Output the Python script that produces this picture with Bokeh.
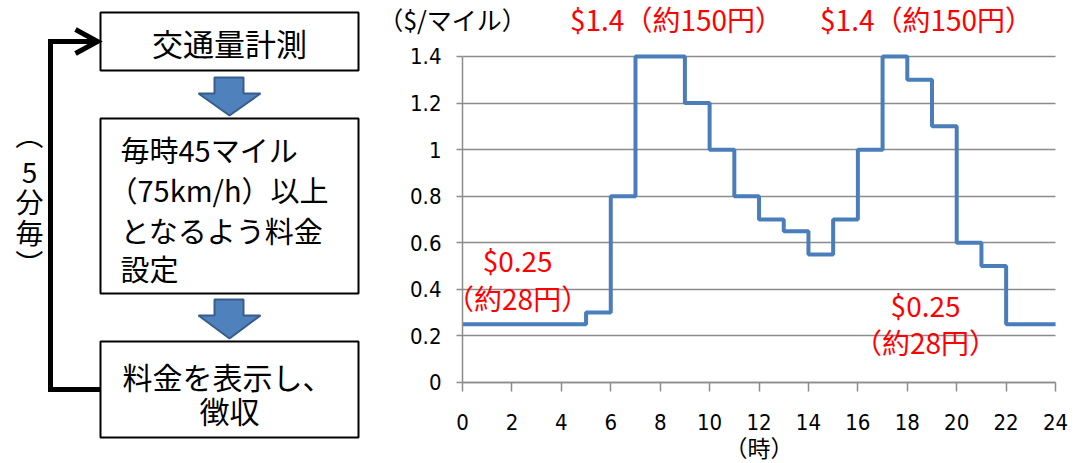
from bokeh.plotting import figure
from bokeh.layouts import row, column
from bokeh.models import Range1d, FixedTicker, NumeralTickFormatter, Label, ColumnDataSource
from bokeh.core.properties import value
from bokeh.embed import file_html
from bokeh.resources import INLINE

# ---- data ----
hours = list(range(25))
price = [0.25, 0.25, 0.25, 0.25, 0.25, 0.3, 0.8, 1.4, 1.4, 1.2, 1.0, 0.8, 0.7,
         0.65, 0.55, 0.7, 1.0, 1.4, 1.3, 1.1, 0.6, 0.5, 0.25, 0.25, 0.25]
x_ticks = list(range(0, 25, 2))
y_ticks = [0, 0.2, 0.4, 0.6, 0.8, 1.0, 1.2, 1.4]
y_unit = "（$/マイル）"
x_unit = "（時）"
peak_labels = ["$1.4（約150円）", "$1.4（約150円）"]
peak_hours = [8.66, 18.78]
low_price_text = ["$0.25", "（約28円）"]
step1 = ["交通量計測"]
step2 = ["毎時45マイル", "（75km/h）以上", "となるよう料金", "設定"]
step3 = ["料金を表示し、", "徴収"]
cycle = ["（", "5", "分", "毎", "）"]

JP = "Noto Sans CJK JP"
SC = "Noto Sans CJK SC"
NARROW = "'Liberation Sans Narrow', 'DejaVu Sans Condensed', 'Liberation Sans', sans-serif"

# ---- left: flow diagram ----
L = figure(width=370, height=463, output_backend="svg", toolbar_location=None,
           x_range=Range1d(0, 370), y_range=Range1d(463, 0),
           min_border=0, outline_line_color=None)
L.axis.visible = False
L.grid.visible = False

def box(x0, x1, y0, y1):
    L.quad(left=x0, right=x1, top=y0, bottom=y1, fill_color="white",
           line_color="black", line_width=2)

def down_arrow(y0, ym, y1):
    xs = [214, 243, 243, 260, 229, 198, 214]
    ys = [y0, y0, ym, ym, y1, ym, ym]
    L.patch(xs, ys, fill_color="#4F81BD", line_color="#385D8A", line_width=2)

box(100, 358, 12, 70)
box(100, 358, 118, 293)
box(100, 358, 341, 437)
down_arrow(77, 93, 115)
down_arrow(299, 315, 338)

# feedback loop
L.line([100, 50, 50, 96], [389, 389, 41, 41], line_color="black", line_width=5,
       line_join="miter")
L.line([75, 97, 75], [29, 41, 53], line_color="black", line_width=5, line_join="miter")

L.text(x=[229], y=[42], text=step1, text_font=value(JP), text_font_size="31px",
       text_align="center", text_baseline="middle", text_color="black")
L.text(x=[120, 108, 120, 120], y=[148, 188, 229, 267], text=step2, text_font=value(JP),
       text_font_size="29px", text_align="left", text_baseline="middle", text_color="black")
L.text(x=[227, 229], y=[375, 409], text=step3, text_font=value(JP),
       text_font_size="30px", text_align="center", text_baseline="middle", text_color="black")
L.text(x=[29] * 5, y=[135, 172, 200, 231, 263], text=cycle,
       angle=[-1.5708, 0, 0, 0, -1.5708], text_font=value(JP), text_font_size="28px",
       text_align="center", text_baseline="middle", text_color="black")

# ---- right: step chart ----
p = figure(width=711, height=463, output_backend="svg", toolbar_location=None,
           x_range=Range1d(-3.7235, 25.05), y_range=Range1d(-0.348, 1.6405),
           min_border=0, outline_line_color=None)

src = ColumnDataSource(dict(h=hours, p=price))
p.step("h", "p", source=src, mode="after", line_color="#4A7EBB", line_width=4)

p.xgrid.visible = False
p.ygrid.ticker = FixedTicker(ticks=y_ticks)
p.ygrid.grid_line_color = "#8C8C8C"
p.ygrid.grid_line_width = 1.5
p.ygrid.cross_bounds = (0, 24)

p.xaxis.ticker = FixedTicker(ticks=x_ticks)
p.yaxis.ticker = FixedTicker(ticks=y_ticks)
p.yaxis.formatter = NumeralTickFormatter(format="0.[0]")
p.xaxis.bounds = (0, 24)
p.yaxis.bounds = (0, 1.4)
p.yaxis.fixed_location = 0
p.xaxis.fixed_location = 0
for ax in (p.xaxis, p.yaxis):
    ax.axis_line_color = "#8C8C8C"
    ax.axis_line_width = 1.5
    ax.major_tick_line_color = "#8C8C8C"
    ax.major_tick_line_width = 1.5
    ax.major_tick_in = 0
    ax.minor_tick_line_color = None
    ax.major_label_text_font = NARROW
    ax.major_label_text_font_size = "22px"
    ax.major_label_text_color = "black"
p.xaxis.major_tick_out = 9
p.yaxis.major_tick_out = 6
p.xaxis.major_label_standoff = 23
p.yaxis.major_label_standoff = 15

p.add_layout(Label(x=12, y=-0.279, text=x_unit, text_font=JP, text_font_size="23px",
                   text_align="center", text_baseline="middle", text_color="black"))
p.add_layout(Label(x=-0.405, y=1.563, text=y_unit, text_font=JP, text_font_size="25px",
                   text_align="center", text_baseline="middle", text_color="black"))
for hx, t in zip(peak_hours, peak_labels):
    p.add_layout(Label(x=hx, y=1.563, text=t, text_font=SC, text_font_size="28px",
                       text_align="center", text_baseline="middle", text_color="#FF0000"))
for hx, ys in ((2.23, (0.528, 0.361)), (18.74, (0.331, 0.172))):
    for yy, t in zip(ys, low_price_text):
        p.add_layout(Label(x=hx, y=yy, text=t, text_font=SC, text_font_size="28px",
                           text_align="center", text_baseline="middle", text_color="#FF0000"))

layout = row(column(L), column(p), spacing=0)
open("out.html", "w").write(file_html(layout, INLINE))
